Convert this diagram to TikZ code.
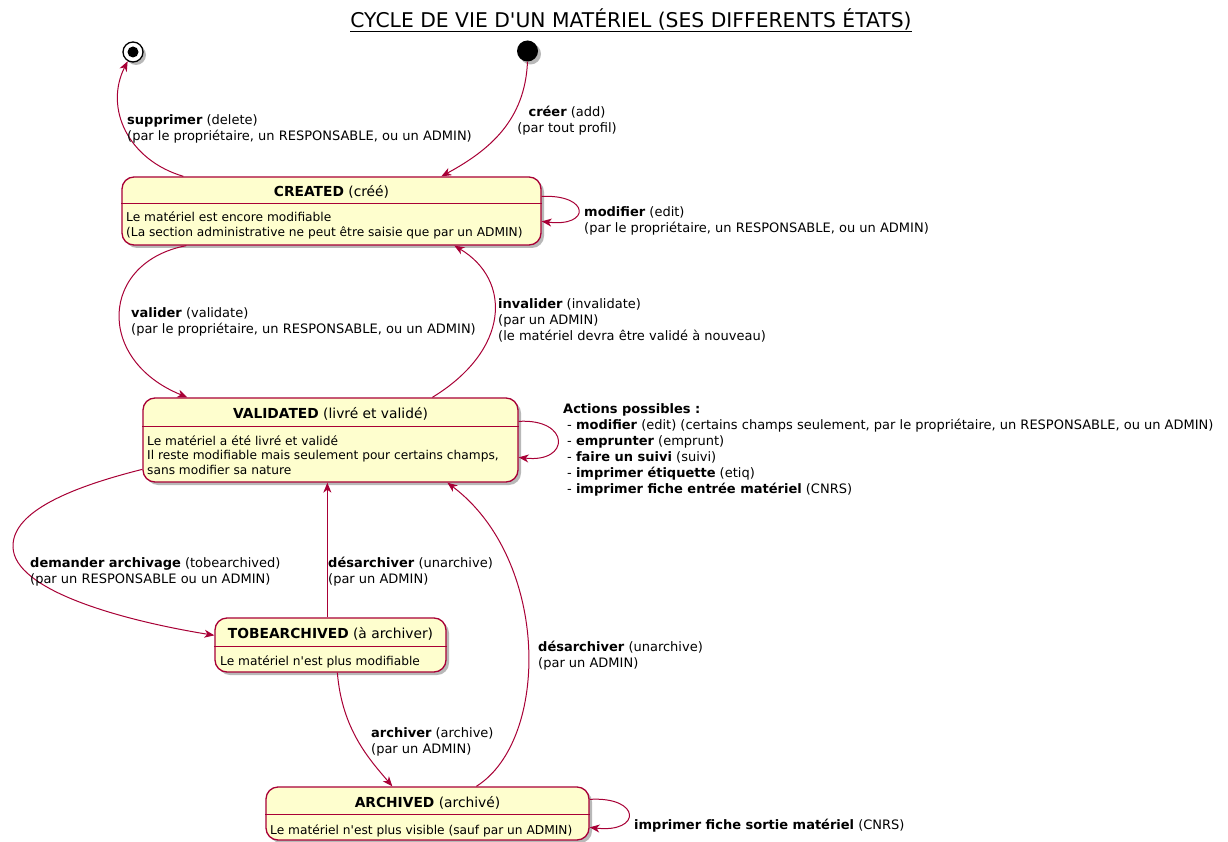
\documentclass[tikz,border=0pt]{standalone}
\usepackage{fontspec}
\setmainfont{DejaVu Sans}[Ligatures=TeXOff]
\usetikzlibrary{arrows.meta,shadows,calc}
\definecolor{umlred}{HTML}{A80036}
\definecolor{umlfill}{HTML}{FEFECE}
\begin{document}
\begin{tikzpicture}[x=1pt,y=-1pt,
  shad/.style={drop shadow={shadow xshift=3pt,shadow yshift=-3pt,fill=black,opacity=0.28}},
  statebox/.style={draw=umlred, line width=1.3pt, fill=umlfill, rounded corners=12pt, inner sep=0pt, shad},
  divider/.style={draw=umlred, line width=1.3pt},
  stitle/.style={font=\fontsize{13.8}{16}\selectfont, inner sep=0pt, anchor=base},
  sbody/.style={font=\fontsize{12.2}{14.5}\selectfont, inner sep=0pt, anchor=base west, align=left},
  lbl/.style={font=\fontsize{13}{16}\selectfont, inner sep=0pt, anchor=base west, align=left},
  tr/.style={draw=umlred, line width=1pt, -{Stealth[length=10pt,width=8pt,inset=3pt]}},
]
\useasboundingbox (0,0) rectangle (1228,842);
\fill[white] (0,0) rectangle (1228,842);

% title
\node[font=\fontsize{20.3}{23}\selectfont, inner sep=0pt, anchor=base] (title) at (631,28) {CYCLE DE VIE D'UN MATÉRIEL (SES DIFFERENTS ÉTATS)};
\draw[line width=0.8pt] ([yshift=-3pt]title.base west) -- ([yshift=-3pt]title.base east);

% initial / final
\node[circle, fill=black, minimum size=21pt, inner sep=0pt, shad] (init) at (527.5,51) {};
\node[circle, draw=black, line width=1.3pt, fill=white, minimum size=20pt, inner sep=0pt, shad] (final) at (133,52) {};
\node[circle, fill=black, minimum size=11pt, inner sep=0pt] (finaldot) at (final.center) {};

% CREATED
\node[statebox, minimum width=419pt, minimum height=68pt] (created) at (331.5,211) {};
\draw[divider] ([yshift=-27pt]created.north west) -- ([yshift=-27pt]created.north east);
\node[stitle] (createdT) at (331.5,197) {\textbf{CREATED} (créé)};
\node[sbody] (createdB) at (126,236.5) {Le matériel est encore modifiable\\(La section administrative ne peut être saisie que par un ADMIN)};

% VALIDATED
\node[statebox, minimum width=375pt, minimum height=84pt] (validated) at (330.5,440) {};
\draw[divider] ([yshift=-29pt]validated.north west) -- ([yshift=-29pt]validated.north east);
\node[stitle] (validatedT) at (330.5,418) {\textbf{VALIDATED} (livré et validé)};
\node[sbody] (validatedB) at (147,474) {Le matériel a été livré et validé\\Il reste modifiable mais seulement pour certains champs,\\sans modifier sa nature};

% TOBEARCHIVED
\node[statebox, minimum width=231pt, minimum height=54pt] (tobe) at (330.5,645) {};
\draw[divider] ([yshift=-29pt]tobe.north west) -- ([yshift=-29pt]tobe.north east);
\node[stitle] (tobeT) at (330.5,638) {\textbf{TOBEARCHIVED} (à archiver)};
\node[sbody] (tobeB) at (220,665) {Le matériel n'est plus modifiable};

% ARCHIVED
\node[statebox, minimum width=323pt, minimum height=53pt] (archived) at (427.5,813.5) {};
\draw[divider] ([yshift=-28pt]archived.north west) -- ([yshift=-28pt]archived.north east);
\node[stitle] (archivedT) at (427.5,807) {\textbf{ARCHIVED} (archivé)};
\node[sbody] (archivedB) at (270,834) {Le matériel n'est plus visible (sauf par un ADMIN)};

% transitions
\draw[tr] ([xshift=62pt]created.north west) .. controls (128,160) and (104,108) .. (final.240);
\draw[tr] (init.south) .. controls (525,120) and (490,150) .. ([xshift=320pt]created.north west);
\draw[tr] ([yshift=-20pt]created.north east) .. controls +(49,-2) and +(49,6) .. ([yshift=-45pt]created.north east);
\draw[tr] ([xshift=65pt]created.south west) .. controls (100,262) and (95,360) .. ([xshift=45pt]validated.north west);
\draw[tr] ([xshift=290pt]validated.north west) .. controls (510,350) and (512,280) .. ([xshift=333pt]created.south west);
\draw[tr] ([yshift=-24pt]validated.north east) .. controls +(52,-3) and +(52,6) .. ([yshift=-60pt]validated.north east);
\draw[tr] ([yshift=-72pt]validated.north west) .. controls (60,490) and (12,515) .. (13,547) .. controls (14,590) and (120,620) .. ([yshift=-18pt]tobe.north west);
\draw[tr] ([xshift=113pt]tobe.north west) -- ([xshift=185pt]validated.south west);
\draw[tr] ([xshift=123pt]tobe.south west) .. controls (342,730) and (370,760) .. ([xshift=127pt]archived.north west);
\draw[tr] ([xshift=211pt]archived.north west) .. controls (550,740) and (550,560) .. ([xshift=305pt]validated.south west);
\draw[tr] ([yshift=-13pt]archived.north east) .. controls +(52,-3) and +(52,6) .. ([yshift=-41pt]archived.north east);

% labels
\node[lbl] (l1) at (127,141) {\textbf{supprimer} (delete)\\(par le propriétaire, un RESPONSABLE, ou un ADMIN)};
\node[lbl, anchor=base, align=center] (l2) at (567,133) {\textbf{créer} (add)\\(par tout profil)};
\node[lbl] (l3) at (584,233) {\textbf{modifier} (edit)\\(par le propriétaire, un RESPONSABLE, ou un ADMIN)};
\node[lbl] (l4) at (131,333) {\textbf{valider} (validate)\\(par le propriétaire, un RESPONSABLE, ou un ADMIN)};
\node[lbl] (l5) at (498,340) {\textbf{invalider} (invalidate)\\(par un ADMIN)\\(le matériel devra être validé à nouveau)};
\node[lbl] (l6) at (563,493) {\textbf{Actions possibles :}\\\hspace*{4pt}- \textbf{modifier} (edit) (certains champs seulement, par le propriétaire, un RESPONSABLE, ou un ADMIN)\\\hspace*{4pt}- \textbf{emprunter} (emprunt)\\\hspace*{4pt}- \textbf{faire un suivi} (suivi)\\\hspace*{4pt}- \textbf{imprimer étiquette} (etiq)\\\hspace*{4pt}- \textbf{imprimer fiche entrée matériel} (CNRS)};
\node[lbl] (l7) at (30,583) {\textbf{demander archivage} (tobearchived)\\(par un RESPONSABLE ou un ADMIN)};
\node[lbl] (l8) at (328,583) {\textbf{désarchiver} (unarchive)\\(par un ADMIN)};
\node[lbl] (l9) at (371,753) {\textbf{archiver} (archive)\\(par un ADMIN)};
\node[lbl] (l10) at (538,667) {\textbf{désarchiver} (unarchive)\\(par un ADMIN)};
\node[lbl] (l11) at (634,829) {\textbf{imprimer fiche sortie matériel} (CNRS)};
\end{tikzpicture}
\end{document}
